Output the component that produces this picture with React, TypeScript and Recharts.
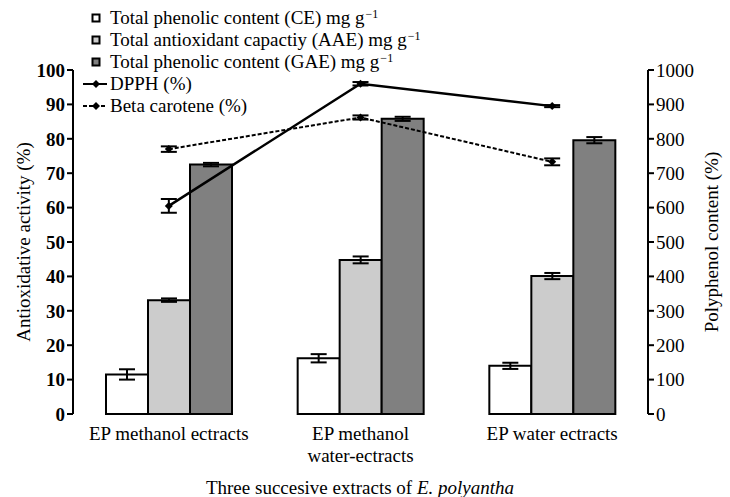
import React from 'react';
import { ComposedChart, Bar, Line, XAxis, YAxis, ErrorBar, Legend } from 'recharts';

const FONT = '"Liberation Serif", "Times New Roman", serif';

// three extracts
const CATEGORIES = ['EP methanol ectracts', 'EP methanol\nwater-ectracts', 'EP water ectracts'];

// bars — polyphenol content (right axis)
const CE = [115, 162, 140];
const CE_ERR = [15, 12, 9];
const AAE = [331, 448, 401];
const AAE_ERR = [5, 10, 9];
const GAE = [725, 858, 796];
const GAE_ERR = [5, 6, 9];

// lines — antioxidative activity % (left axis)
const DPPH = [60.5, 96, 89.5];
const DPPH_ERR = [2, 0.5, 0.3];
const BETA = [77, 86.2, 73.3];
const BETA_ERR = [0.8, 0.6, 1];

const LEFT_TICKS = [0, 10, 20, 30, 40, 50, 60, 70, 80, 90, 100];
const RIGHT_TICKS = [0, 100, 200, 300, 400, 500, 600, 700, 800, 900, 1000];
const EDGE_TICKS = [0, 1, 2, 3];

const LEGEND_NAMES = [
  'Total phenolic content (CE) mg g',
  'Total antioxidant capactiy (AAE) mg g',
  'Total phenolic content (GAE) mg g',
  'DPPH (%)',
  'Beta carotene (%)',
];
const BAR_FILLS = ['#ffffff', '#cccccc', '#808080'];

const data = CATEGORIES.map((name, i) => ({
  name,
  ce: CE[i],
  ceErr: CE_ERR[i],
  aae: AAE[i],
  aaeErr: AAE_ERR[i],
  gae: GAE[i],
  gaeErr: GAE_ERR[i],
  dpph: DPPH[i],
  dpphErr: DPPH_ERR[i],
  beta: BETA[i],
  betaErr: BETA_ERR[i],
}));

const Diamond = (props: any) => {
  const { cx, cy, index } = props;
  if (cx == null || cy == null) return null;
  const r = 4;
  return <path key={index} d={`M${cx},${cy - r}L${cx + r},${cy}L${cx},${cy + r}L${cx - r},${cy}Z`} fill="#000" />;
};

const CatTick = (props: any) => {
  const { x, y, payload } = props;
  const lines = String(payload.value).split('\n');
  return (
    <text x={x} y={y} textAnchor="middle" fontFamily={FONT} fontSize={19} fill="#000">
      {lines.map((l, i) => (
        <tspan key={i} x={x} dy={i === 0 ? 26 : 22}>{l}</tspan>
      ))}
    </text>
  );
};

const TitleLabel = () => (
  <text x={360} y={494} textAnchor="middle" fontFamily={FONT} fontSize={19} fill="#000">
    Three succesive extracts of <tspan fontStyle="italic">E. polyantha</tspan>
  </text>
);

const LeftLabel = () => (
  <text x={30} y={242} transform="rotate(-90 30 242)" textAnchor="middle" fontFamily={FONT} fontSize={19} fill="#000">
    Antioxidative activity (%)
  </text>
);

const RightLabel = () => (
  <text x={718} y={242} transform="rotate(-90 718 242)" textAnchor="middle" fontFamily={FONT} fontSize={19} fill="#000">
    Polyphenol content (%)
  </text>
);

const LegendBox = () => (
  <div style={{ fontFamily: FONT, fontSize: 19, color: '#000', lineHeight: '22px' }}>
    {LEGEND_NAMES.map((name, i) => (
      <div key={name} style={{ display: 'flex', alignItems: 'center', height: 22, whiteSpace: 'nowrap' }}>
        <svg width={24} height={22} style={{ flex: 'none' }}>
          {i < 3 ? (
            <rect x={9.5} y={7.5} width={7} height={7} fill={BAR_FILLS[i]} stroke="#000" strokeWidth={2} />
          ) : (
            <>
              <line x1={0} y1={11} x2={24} y2={11} stroke="#000" strokeWidth={2} strokeDasharray={i === 4 ? '4 2' : undefined} />
              <path d="M13,7L17,11L13,15L9,11Z" fill="#000" />
            </>
          )}
        </svg>
        <span style={{ marginLeft: 3 }}>
          {name}
          {i < 3 && (
            <span style={{ fontSize: 12, lineHeight: '12px', position: 'relative', top: -6, marginLeft: 1 }}>−1</span>
          )}
        </span>
      </div>
    ))}
  </div>
);

export default function App() {
  const axisStroke = { stroke: '#000', strokeWidth: 2 };
  return (
    <div style={{ position: 'absolute', left: 0, top: 0, width: 730, height: 497, background: '#fff' }}>
      <ComposedChart width={730} height={497} data={data} margin={{ top: 70, right: 0, bottom: 0, left: 0 }} barGap={0} barSize={42}>
        <XAxis
          xAxisId="edge"
          type="number"
          domain={[0, 3]}
          ticks={EDGE_TICKS}
          allowDataOverflow
          height={0}
          tick={false}
          tickSize={7}
          axisLine={axisStroke}
          tickLine={axisStroke}
        />
        <XAxis
          xAxisId="cat"
          dataKey="name"
          height={83}
          interval={0}
          axisLine={false}
          tickLine={false}
          tickSize={0}
          tickMargin={0}
          tick={<CatTick />}
          label={<TitleLabel />}
        />
        <YAxis
          yAxisId="left"
          domain={[0, 100]}
          ticks={LEFT_TICKS}
          width={73}
          tickSize={6}
          axisLine={axisStroke}
          tickLine={axisStroke}
          tick={{ fill: '#000', fontSize: 19, fontFamily: FONT, fontWeight: 'bold' }}
          label={<LeftLabel />}
        />
        <YAxis
          yAxisId="right"
          orientation="right"
          domain={[0, 1000]}
          ticks={RIGHT_TICKS}
          width={82}
          tickSize={6}
          axisLine={axisStroke}
          tickLine={axisStroke}
          tick={{ fill: '#000', fontSize: 19, fontFamily: FONT }}
          label={<RightLabel />}
        />
        <Legend
          layout="vertical"
          align="center"
          verticalAlign="middle"
          content={<LegendBox />}
          wrapperStyle={{ top: 7, left: 83, width: 400 }}
        />
        <Bar xAxisId="cat" yAxisId="right" dataKey="ce" fill={BAR_FILLS[0]} stroke="#000" strokeWidth={2} isAnimationActive={false}>
          <ErrorBar dataKey="ceErr" width={8} stroke="#000" strokeWidth={2} />
        </Bar>
        <Bar xAxisId="cat" yAxisId="right" dataKey="aae" fill={BAR_FILLS[1]} stroke="#000" strokeWidth={2} isAnimationActive={false}>
          <ErrorBar dataKey="aaeErr" width={8} stroke="#000" strokeWidth={2} />
        </Bar>
        <Bar xAxisId="cat" yAxisId="right" dataKey="gae" fill={BAR_FILLS[2]} stroke="#000" strokeWidth={2} isAnimationActive={false}>
          <ErrorBar dataKey="gaeErr" width={8} stroke="#000" strokeWidth={2} />
        </Bar>
        <Line xAxisId="cat" yAxisId="left" dataKey="dpph" stroke="#000" strokeWidth={2.5} dot={Diamond} activeDot={false} isAnimationActive={false}>
          <ErrorBar dataKey="dpphErr" width={8} stroke="#000" strokeWidth={2} />
        </Line>
        <Line xAxisId="cat" yAxisId="left" dataKey="beta" stroke="#000" strokeWidth={2} strokeDasharray="4 2" dot={Diamond} activeDot={false} isAnimationActive={false}>
          <ErrorBar dataKey="betaErr" width={8} stroke="#000" strokeWidth={2} />
        </Line>
      </ComposedChart>
    </div>
  );
}
